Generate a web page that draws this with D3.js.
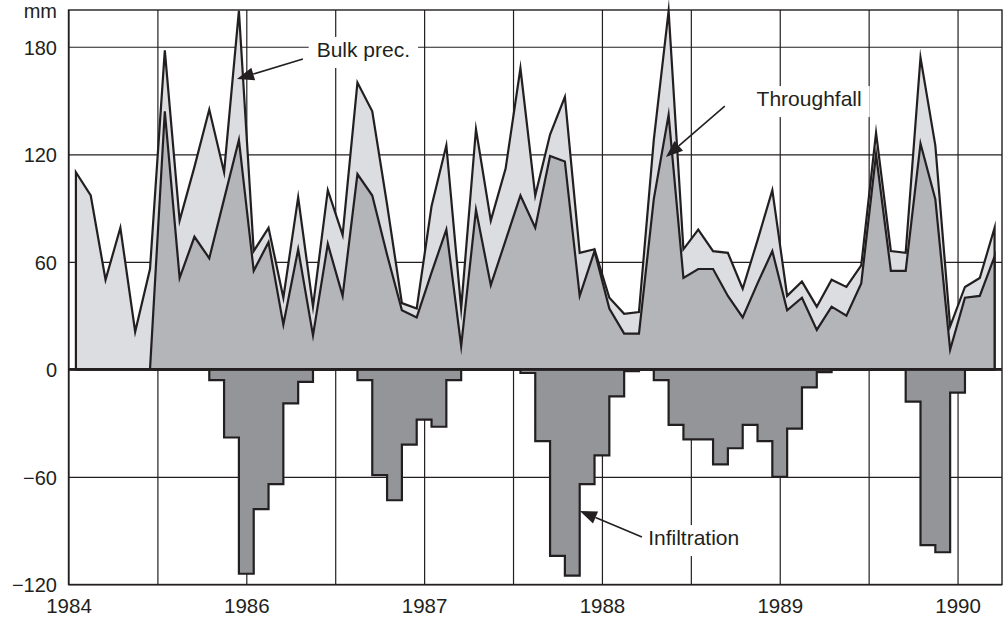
<!DOCTYPE html>
<html>
<head>
<meta charset="utf-8">
<script src="https://cdn.jsdelivr.net/npm/d3@7"></script>
<style>
  html, body { margin: 0; padding: 0; background: #fff; }
  svg { display: block; font-family: "Liberation Sans", Arial, Helvetica, sans-serif; }
</style>
</head>
<body>
<svg id="chart" width="1003" height="619"></svg>
<script>
// Monthly water balance, mm (month index 0 = first month on the axis)
const bulkPrec = [
  110, 97, 50, 79, 21, 56, 178, 83, 113, 145,
  110, 200, 66, 79, 40, 96, 35, 100, 75, 160,
  144, 92, 37, 34, 91, 125, 34, 134, 83, 112,
  168, 97, 131, 152, 65, 67, 40, 31, 32, 128,
  200, 67, 78, 66, 65, 45, 72, 100, 41, 49,
  35, 50, 46, 58, 132, 66, 65, 174, 125, 24,
  46, 51, 79
];

const throughfall = [
  null, null, null, null, null, 0, 144, 51, 74, 62,
  95, 128, 55, 71, 25, 67, 19, 70, 41, 109,
  97, 64, 33, 29, 54, 78, 13, 89, 47, 72,
  97, 79, 119, 116, 41, 66, 34, 20, 20, 95,
  142, 51, 56, 56, 41, 29, 48, 66, 33, 40,
  22, 35, 30, 48, 120, 55, 55, 126, 95, 11,
  40, 41, 63
];

const infiltration = [
  0, 0, 0, 0, 0, 0, 0, 0, 0, -6,
  -38, -114, -78, -64, -19, -7, 0, 0, 0, -6,
  -59, -73, -42, -28, -32, -6, 0, 0, 0, 0,
  -2, -40, -104, -115, -64, -48, -15, -1, 0, -6,
  -31, -39, -39, -53, -44, -31, -40, -60, -33, -10,
  -1.5, 0, 0, 0, 0, 0, -18, -98, -102, -13,
  0, 0, 0
];

const xTickMonths = [0, 12, 24, 36, 48, 60];
const xTickLabels = ["1984", "1986", "1987", "1988", "1989", "1990"];
const xGridMonths = [0, 6, 12, 18, 24, 30, 36, 42, 48, 54, 60];
const yTicks = [-120, -60, 0, 60, 120, 180];
const yUnit = "mm";

// Callout labels (positions in month / mm)
const callouts = [
  { text: "Bulk prec.",   tx: 16.75, ty: 174.3, ax: 15.82, ay: 173.2, hx: 11.37, hy: 162 },
  { text: "Throughfall",  tx: 46.44, ty: 146.9, ax: 44.29, ay: 146.9, hx: 40.32, hy: 118.5 },
  { text: "Infiltration", tx: 39.12, ty: -98,   ax: 38.70, ay: -93.5, hx: 34.51, hy: -79 }
];

const INK = "#231f20";
const svg = d3.select("#chart");

const x = d3.scaleLinear().domain([0, 63]).range([68.5, 1002]);
const y = d3.scaleLinear().domain([-120, 200.5]).range([584.5, 10]);
const [x0, x1] = x.range();
const [yb, yt] = y.range();

// ---- grid via axes ----
const yAxis = d3.axisLeft(y)
  .tickValues(yTicks)
  .tickSize(-(x1 - x0))
  .tickFormat(d3.format("d"));
const gy = svg.append("g").attr("transform", `translate(${x0},0)`).call(yAxis);
gy.select(".domain").remove();
gy.selectAll(".tick line").attr("stroke", INK).attr("stroke-width", 1.2);
gy.selectAll(".tick text")
  .attr("x", -11.5).attr("dy", null).attr("y", 7.3)
  .attr("fill", INK).attr("font-size", 20).attr("font-family", null)
  .attr("text-anchor", "end");

const labelFor = new Map(xTickMonths.map((m, i) => [m, xTickLabels[i]]));
const xAxis = d3.axisBottom(x)
  .tickValues(xGridMonths)
  .tickSize(-(yb - yt))
  .tickFormat(d => labelFor.get(d) || "");
const gx = svg.append("g").attr("transform", `translate(0,${yb})`).call(xAxis);
gx.select(".domain").remove();
gx.selectAll(".tick line").attr("stroke", INK).attr("stroke-width", 1.2);
gx.selectAll(".tick text")
  .attr("y", 28.5).attr("dy", null)
  .attr("fill", INK).attr("font-size", 20.5).attr("font-family", null);

// unit label
svg.append("text")
  .attr("x", x0 - 11.5).attr("y", 18.3)
  .attr("text-anchor", "end").attr("font-size", 20).attr("fill", INK)
  .text(yUnit);

// ---- callout backgrounds (clear the grid behind labels) ----
const calloutG = svg.append("g");
const boxes = calloutG.selectAll("rect").data(callouts).join("rect").attr("fill", "#fff");
const labels = svg.append("g").selectAll("text").data(callouts).join("text")
  .attr("x", d => x(d.tx)).attr("y", d => y(d.ty))
  .attr("font-size", 21).attr("fill", INK)
  .text(d => d.text);
labels.each(function (d, i) {
  const b = this.getBBox();
  d3.select(boxes.nodes()[i])
    .attr("x", b.x - 8).attr("y", b.y - 1)
    .attr("width", b.width + 16).attr("height", b.height + 8);
});

// ---- areas ----
const idx = d3.range(bulkPrec.length);
const xm = i => x(i + 0.5);

const bulkArea = d3.area()
  .x(i => xm(i)).y0(y(0)).y1(i => y(bulkPrec[i]));
const tfArea = d3.area()
  .defined(i => throughfall[i] != null)
  .x(i => xm(i)).y0(y(0)).y1(i => y(throughfall[i]));
const infArea = d3.area()
  .curve(d3.curveStepAfter)
  .x(i => xm(i)).y0(y(0)).y1(i => y(infiltration[i]));

const areas = svg.append("g")
  .attr("stroke", INK).attr("stroke-width", 2.2)
  .attr("stroke-linejoin", "miter").attr("stroke-miterlimit", 12);

areas.append("path").attr("d", bulkArea(idx)).attr("fill", "#dcdde0");
areas.append("path").attr("d", tfArea(idx)).attr("fill", "#b4b5b8");
areas.append("path").attr("d", infArea(idx)).attr("fill", "#939598");

// zero line
svg.append("line")
  .attr("x1", x0).attr("x2", x1).attr("y1", y(0)).attr("y2", y(0))
  .attr("stroke", INK).attr("stroke-width", 2.6);

// frame
svg.append("rect")
  .attr("x", x0).attr("y", yt).attr("width", x1 - x0).attr("height", yb - yt)
  .attr("fill", "none").attr("stroke", INK).attr("stroke-width", 1.4);

// ---- callout arrows ----
const arrows = svg.append("g");
callouts.forEach(d => {
  const ax = x(d.ax), ay = y(d.ay), hx = x(d.hx), hy = y(d.hy);
  const dx = hx - ax, dy = hy - ay, len = Math.hypot(dx, dy);
  const ux = dx / len, uy = dy / len;
  const headLen = 17, halfW = 6.5;
  const bx = hx - ux * headLen, by = hy - uy * headLen;
  arrows.append("line")
    .attr("x1", ax).attr("y1", ay).attr("x2", bx).attr("y2", by)
    .attr("stroke", INK).attr("stroke-width", 1.6);
  arrows.append("path")
    .attr("d", `M${hx},${hy}L${bx - uy * halfW},${by + ux * halfW}L${bx + uy * halfW},${by - ux * halfW}Z`)
    .attr("fill", INK);
});
</script>
</body>
</html>
